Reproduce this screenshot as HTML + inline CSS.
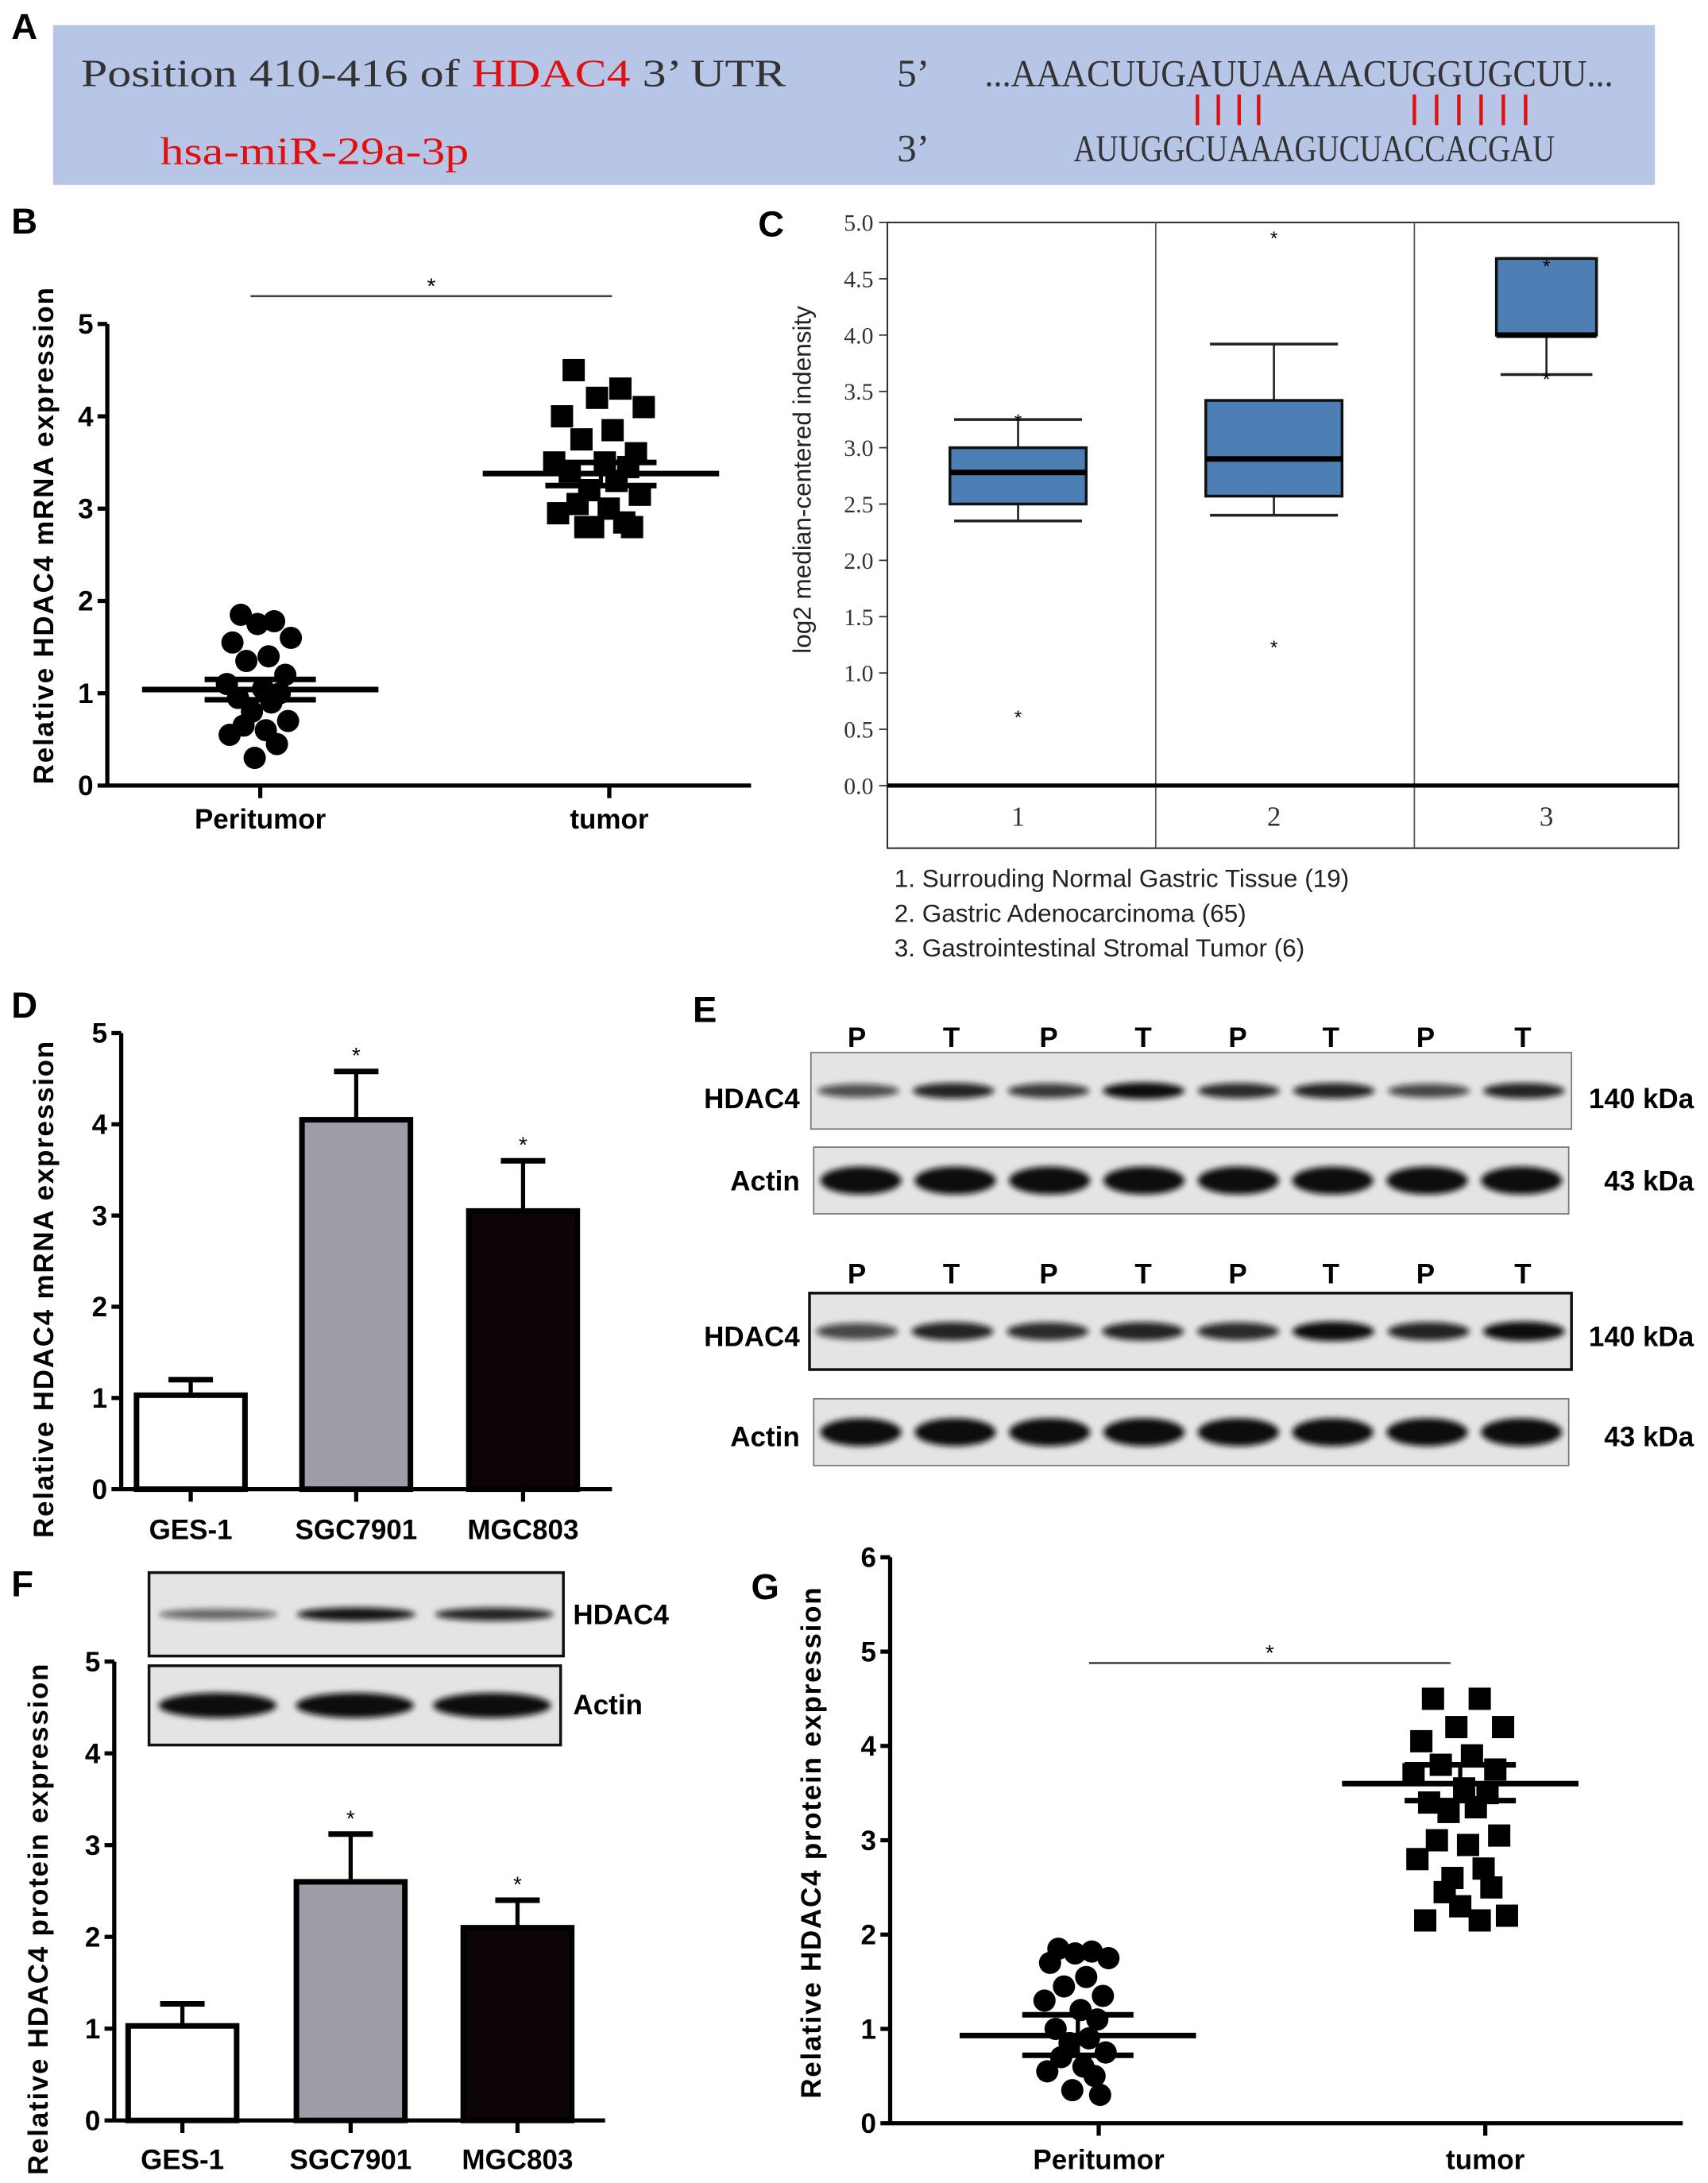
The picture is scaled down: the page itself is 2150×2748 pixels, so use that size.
<!DOCTYPE html>
<html><head><meta charset="utf-8"><style>
html,body{margin:0;padding:0;background:#fff}
svg{display:block;font-family:"Liberation Sans",sans-serif}
.b{font-weight:bold}
</style></head><body>
<svg id="fig" width="2150" height="2748" viewBox="0 0 1228 1570" xmlns="http://www.w3.org/2000/svg">
<defs>
<filter id="blur" x="-20%" y="-50%" width="140%" height="200%"><feGaussianBlur stdDeviation="2.2"/></filter>
</defs>
<g>
<text x="8" y="28" class="b" font-size="26">A</text>
<rect x="38" y="18" width="1152" height="115" fill="#b7c6e6"/>
<text x="58" y="62" font-family="Liberation Serif,serif" font-size="28" fill="#333" textLength="507" lengthAdjust="spacingAndGlyphs">Position 410-416 of <tspan fill="#e01010">HDAC4</tspan> 3’ UTR</text>
<text x="645" y="62" font-family="Liberation Serif,serif" font-size="28" fill="#333">5’</text>
<text x="708" y="62" font-family="Liberation Serif,serif" font-size="27" fill="#333" textLength="452" lengthAdjust="spacingAndGlyphs">...AAACUUGAUUAAAACUGGUGCUU...</text>
<text x="115" y="118" font-family="Liberation Serif,serif" font-size="28" fill="#e01010" textLength="222" lengthAdjust="spacingAndGlyphs">hsa-miR-29a-3p</text>
<text x="645" y="116" font-family="Liberation Serif,serif" font-size="28" fill="#333">3’</text>
<text x="772" y="116" font-family="Liberation Serif,serif" font-size="27" fill="#333" textLength="346" lengthAdjust="spacingAndGlyphs">AUUGGCUAAAGUCUACCACGAU</text>
<g id="pairs" stroke="#e01010" stroke-width="2.5"></g>
</g>
<g id="pb">
<text x="8" y="168" class="b" font-size="26">B</text>
</g>
<g id="pc">
<text x="545" y="170" class="b" font-size="26">C</text>
</g>
<g id="pd">
<text x="8" y="732" class="b" font-size="26">D</text>
</g>
<g id="pe">
<text x="498" y="735" class="b" font-size="26">E</text>
</g>
<g id="pf">
<text x="8" y="1148" class="b" font-size="26">F</text>
</g>
<g id="pg">
<text x="540" y="1150" class="b" font-size="26">G</text>
</g>
</svg>
<script>
const bPeriValues=[1.85,1.78,1.75,1.6,1.55,1.4,1.35,1.2,1.1,1.05,1.0,0.95,0.9,0.8,0.7,0.65,0.6,0.55,0.45,0.3];
const bTumorValues=[4.5,4.3,4.2,4.1,4.0,3.85,3.75,3.6,3.5,3.5,3.45,3.4,3.3,3.2,3.15,3.05,3.0,2.95,2.85,2.8,2.8,2.8];
const bMeans=[1.04,3.38];const bSemHi=[1.15,3.5];const bSemLo=[0.93,3.25];
const cCategories=["1","2","3"];
const cQ1=[2.5,2.57,4.0];const cQ3=[3.0,3.42,4.68];const cMed=[2.78,2.9,4.0];
const cWLo=[2.35,2.4,3.65];const cWHi=[3.25,3.92,4.68];
const cOutliers=[[0.65,3.28],[4.9,1.27],[4.65,3.65]];
const cTicks=["0.0","0.5","1.0","1.5","2.0","2.5","3.0","3.5","4.0","4.5","5.0"];
const cLegend=["1. Surrouding Normal Gastric Tissue (19)","2. Gastric Adenocarcinoma (65)","3. Gastrointestinal Stromal Tumor (6)"];
const dCategories=["GES-1","SGC7901","MGC803"];
const dValues=[1.03,4.05,3.05];const dErr=[1.2,4.58,3.6];
const fValues=[1.03,2.6,2.1];const fErr=[1.27,3.12,2.4];
const gPeriValues=[1.85,1.82,1.8,1.75,1.7,1.55,1.45,1.35,1.3,1.2,1.1,1.0,0.9,0.85,0.75,0.7,0.6,0.55,0.5,0.35,0.3];
const gTumorValues=[4.5,4.5,4.2,4.2,4.05,3.9,3.8,3.75,3.7,3.55,3.5,3.4,3.35,3.3,3.05,3.0,2.95,2.8,2.7,2.6,2.5,2.45,2.3,2.2,2.15,2.15];
const gMeans=[0.93,3.6];const gSemHi=[1.15,3.8];const gSemLo=[0.72,3.42];
const laneLabels=["P","T","P","T","P","T","P","T"];
const eHdacTop=[0.55,0.85,0.7,1.0,0.8,0.85,0.6,0.85];
const eHdacBot=[0.6,0.85,0.8,0.85,0.8,1.0,0.85,1.0];
const fHdac=[0.4,0.95,0.85];

const NS="http://www.w3.org/2000/svg";
function mk(parent,tag,attrs,txt){const e=document.createElementNS(NS,tag);for(const k in attrs)e.setAttribute(k,attrs[k]);if(txt!==undefined)e.textContent=txt;parent.appendChild(e);return e;}
const jit=[-14,10,-2,22,-20,6,-10,18,-24,2,14,-16,8,-6,20,-12,4,-22,12,-4,16,-8,0,24,-18,10];

const pairs=document.getElementById('pairs');
[861,876,891,905,1017,1033,1049,1065,1081,1097].forEach(x=>{const l=mk(pairs,'line',{x1:x,x2:x,y1:68,y2:90});

});

function axisY(g,x,y0,yTop,max,step,label,lx,ly,fs){
  const sc=v=>y0-(y0-yTop)*v/max;
  const ax=mk(g,'line',{x1:x,x2:x,y1:y0,y2:yTop,stroke:'#000','stroke-width':3});
  
  
  for(let v=0;v<=max+1e-9;v+=step){
    const y=sc(v);mk(g,'line',{x1:x-7,x2:x,y1:y,y2:y,stroke:'#000','stroke-width':3});
    const t=mk(g,'text',{x:x-10,y:y+7,'text-anchor':'end','font-size':20,'font-weight':'bold'},String(v));
    
    
  }
  const yl=mk(g,'text',{x:lx,y:ly,'text-anchor':'middle','font-size':fs||20,'font-weight':'bold','letter-spacing':'1',transform:`rotate(-90 ${lx} ${ly})`},label);
  
  
  return sc;
}
function axisX(g,x0,x1,y,ticks,labels,ly){
  const ax=mk(g,'line',{x1:x0,x2:x1,y1:y,y2:y,stroke:'#000','stroke-width':3});
  
  
  ticks.forEach((tx,i)=>{mk(g,'line',{x1:tx,x2:tx,y1:y,y2:y+9,stroke:'#000','stroke-width':3});
    const t=mk(g,'text',{x:tx,y:ly,'text-anchor':'middle','font-size':20,'font-weight':'bold'},labels[i]);
    
    });
}
function scatter(g,sc,x0,x1,y,vals,means,hi,lo,shape,sig){
  const cx=[x0,x1];
  vals.forEach((arr,k)=>arr.forEach((v,i)=>{
    const xx=cx[k]+jit[i%jit.length]*(shape[k]==='s'?1.4:1);let e;
    if(shape[k]==='c'){e=mk(g,'circle',{cx:xx,cy:sc(v),r:8,fill:'#000'});}
    else{e=mk(g,'rect',{x:xx-8,y:sc(v)-8,width:16,height:16,fill:'#000'});}
    
    
  }));
  means.forEach((m,k)=>{const l=mk(g,'line',{x1:cx[k]-85,x2:cx[k]+85,y1:sc(m),y2:sc(m),stroke:'#000','stroke-width':4});
    
    
    [hi[k],lo[k]].forEach(s=>mk(g,'line',{x1:cx[k]-40,x2:cx[k]+40,y1:sc(s),y2:sc(s),stroke:'#000','stroke-width':4}));
    mk(g,'line',{x1:cx[k],x2:cx[k],y1:sc(hi[k]),y2:sc(lo[k]),stroke:'#000','stroke-width':3});
  });
  const sl=mk(g,'line',{x1:sig[0],x2:sig[1],y1:sig[2],y2:sig[2],stroke:'#444','stroke-width':1.5});
  
  
  const st=mk(g,'text',{x:(sig[0]+sig[1])/2,y:sig[2]-2,'text-anchor':'middle','font-size':16},'*');
  
  
}
{const g=document.getElementById('pb');
const sc=axisY(g,77,565,233,5,1,'Relative HDAC4 mRNA expression',38,385,20);
axisX(g,77,540,565,[187,438],['Peritumor','tumor'],596);
scatter(g,sc,187,432,565,[bPeriValues,bTumorValues],bMeans,bSemHi,bSemLo,['c','s'],[180,440,213]);}
{const g=document.getElementById('pg');
const sc=axisY(g,640,1527,1120,6,1,'Relative HDAC4 protein expression',590,1325,20);
axisX(g,640,1210,1527,[790,1068],['Peritumor','tumor'],1560);
scatter(g,sc,775,1050,1527,[gPeriValues,gTumorValues],gMeans,gSemHi,gSemLo,['c','s'],[783,1043,1196]);}
{const g=document.getElementById('pc');
const y0=565,yT=160,sc=v=>y0-(y0-yT)*v/5;
const fr=mk(g,'rect',{x:638,y:160,width:569,height:450,fill:'none',stroke:'#333','stroke-width':1.2});


[831,1017].forEach(x=>mk(g,'line',{x1:x,x2:x,y1:160,y2:610,stroke:'#555','stroke-width':1}));
const bl=mk(g,'line',{x1:638,x2:1207,y1:y0,y2:y0,stroke:'#000','stroke-width':3});


cTicks.forEach(t=>{const y=sc(parseFloat(t));mk(g,'line',{x1:632,x2:638,y1:y,y2:y,stroke:'#333'});
  const tx=mk(g,'text',{x:628,y:y+6,'text-anchor':'end','font-size':17,fill:'#333','font-family':'Liberation Serif,serif'},t);
  
  });
const yl=mk(g,'text',{x:583,y:345,'text-anchor':'middle','font-size':18,fill:'#222',transform:'rotate(-90 583 345)'},'log2 median-centered indensity');


const cx=[732,916,1112],hw=[49,49,36];
cCategories.forEach((c,i)=>{
  const t=mk(g,'text',{x:cx[i],y:594,'text-anchor':'middle','font-size':20,'font-family':'Liberation Serif,serif',fill:'#333'},c);
  
  
  mk(g,'line',{x1:cx[i],x2:cx[i],y1:sc(cWLo[i]),y2:sc(cWHi[i]),stroke:'#222','stroke-width':1.5});
  [cWLo[i],cWHi[i]].forEach(w=>mk(g,'line',{x1:cx[i]-hw[i]+3,x2:cx[i]+hw[i]-3,y1:sc(w),y2:sc(w),stroke:'#222','stroke-width':2}));
  const b=mk(g,'rect',{x:cx[i]-hw[i],y:sc(cQ3[i]),width:hw[i]*2,height:sc(cQ1[i])-sc(cQ3[i]),fill:'#4d7fb5',stroke:'#111','stroke-width':2});
  
  
  mk(g,'line',{x1:cx[i]-hw[i],x2:cx[i]+hw[i],y1:sc(cMed[i]),y2:sc(cMed[i]),stroke:'#000','stroke-width':4});
  cOutliers[i].forEach(o=>{const s=mk(g,'text',{x:cx[i],y:sc(o)+8,'text-anchor':'middle','font-size':14},'*');
    
    });
});
cLegend.forEach((l,i)=>{const t=mk(g,'text',{x:643,y:638+25*i,'font-size':18,fill:'#222'},l);
  
  });}
function bars(g,x,y0,yTop,max,title,cx,vals,errs,xend,ly,tly){
  const sc=axisY(g,x,y0,yTop,max,1,title,tly,(y0+yTop)/2+20,20);
  axisX(g,x,xend,y0,cx,dCategories,ly);
  const fills=['#fff','#9e9ca6','#0c0406'];
  vals.forEach((v,i)=>{
    mk(g,'line',{x1:cx[i],x2:cx[i],y1:sc(v),y2:sc(errs[i]),stroke:'#000','stroke-width':3});
    mk(g,'line',{x1:cx[i]-16,x2:cx[i]+16,y1:sc(errs[i]),y2:sc(errs[i]),stroke:'#000','stroke-width':4});
    const b=mk(g,'rect',{x:cx[i]-39,y:sc(v),width:78,height:y0-sc(v),fill:fills[i],stroke:'#000','stroke-width':4});
    
    
    if(i>0){const s=mk(g,'text',{x:cx[i],y:sc(errs[i])-6,'text-anchor':'middle','font-size':16},'*');
      
      }
  });
}
bars(document.getElementById('pd'),87,1071,743,5,'Relative HDAC4 mRNA expression',[137,256,376],dValues,dErr,440,1107,38);
bars(document.getElementById('pf'),82,1525,1195,5,'Relative HDAC4 protein expression',[131,252,372],fValues,fErr,435,1560,34);
function blot(g,x,y,w,h,n,intens,bandH,name,border){
  const r=mk(g,'rect',{x:x,y:y,width:w,height:h,fill:'#e4e4e4',stroke:border?'#111':'#777','stroke-width':border?2:1});
  
  
  const lw=w/n;
  intens.forEach((a,i)=>{const e=mk(g,'ellipse',{cx:x+lw*(i+0.5),cy:y+h/2,rx:lw*0.43,ry:bandH*(0.6+0.4*a),fill:'#111','fill-opacity':Math.min(1,0.35+0.65*a),filter:'url(#blur)'});
    
    });
}
{const g=document.getElementById('pe');
const lx=[616,684,754,822,890,957,1025,1095];
[745,915].forEach(y=>laneLabels.forEach((l,i)=>{const t=mk(g,'text',{x:lx[i],y:y+8,'text-anchor':'middle','font-size':20,'font-weight':'bold'},l);
  
  }));
blot(g,583,757,547,55,8,eHdacTop,6,'hdac4-blot-1',false);
blot(g,585,825,543,48,8,[1,1,1,1,1,1,1,1],10,'actin-blot-1',false);
blot(g,582,930,548,55,8,eHdacBot,7,'hdac4-blot-2',true);
blot(g,585,1006,543,48,8,[1,1,1,1,1,1,1,1],10,'actin-blot-2',false);
[[790,'HDAC4','140 kDa'],[849,'Actin','43 kDa'],[961,'HDAC4','140 kDa'],[1033,'Actin','43 kDa']].forEach(r=>{
  const a=mk(g,'text',{x:575,y:r[0]+7,'text-anchor':'end','font-size':20,'font-weight':'bold'},r[1]);
  
  
  const b=mk(g,'text',{x:1218,y:r[0]+7,'text-anchor':'end','font-size':20,'font-weight':'bold'},r[2]);
  
  });}
{const g=document.getElementById('pf');
blot(g,107,1131,298,60,3,fHdac,5,'hdac4-inset-blot',true);
blot(g,107,1198,296,57,3,[1,1,1],9,'actin-inset-blot',true);
const a=mk(g,'text',{x:412,y:1168,'font-size':20,'font-weight':'bold'},'HDAC4');


const b=mk(g,'text',{x:412,y:1233,'font-size':20,'font-weight':'bold'},'Actin');

}
</script>
</body></html>
